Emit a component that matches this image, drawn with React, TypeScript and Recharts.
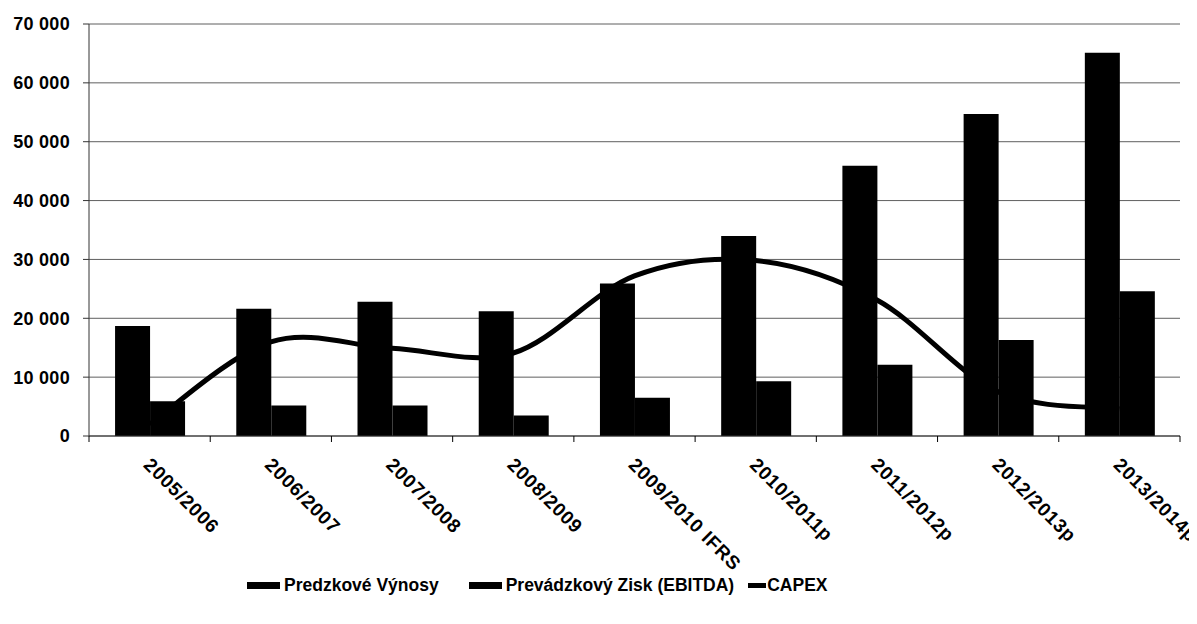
import React from 'react';
import { ComposedChart, Bar, Line, XAxis, YAxis, CartesianGrid, Legend } from 'recharts';

const CATEGORIES = [
  '2005/2006',
  '2006/2007',
  '2007/2008',
  '2008/2009',
  '2009/2010 IFRS',
  '2010/2011p',
  '2011/2012p',
  '2012/2013p',
  '2013/2014p',
];
const REVENUES = [18700, 21600, 22800, 21200, 25900, 34000, 45900, 54700, 65100];
const EBITDA = [5900, 5200, 5200, 3500, 6500, 9300, 12100, 16300, 24600];
const CAPEX = [2000, 16000, 14900, 14100, 27200, 29800, 23100, 7500, 4600];
const Y_TICKS = [0, 10000, 20000, 30000, 40000, 50000, 60000, 70000];

const SERIES_NAMES = ['Predzkové Výnosy', 'Prevádzkový Zisk (EBITDA)', 'CAPEX'];

const data = CATEGORIES.map((name, i) => ({
  name,
  revenues: REVENUES[i],
  ebitda: EBITDA[i],
  capex: CAPEX[i],
}));

const FONT = '"Liberation Sans", Arial, sans-serif';

// smooth curve through every point, like the spreadsheet's "smoothed line"
const catmullRom = (context: any) => {
  let pts: number[][] = [];
  return {
    areaStart() {},
    areaEnd() {},
    lineStart() {
      pts = [];
    },
    point(x: number, y: number) {
      pts.push([+x, +y]);
    },
    lineEnd() {
      if (!pts.length) return;
      context.moveTo(pts[0][0], pts[0][1]);
      for (let i = 0; i < pts.length - 1; i++) {
        const p0 = pts[i - 1] || pts[i];
        const p1 = pts[i];
        const p2 = pts[i + 1];
        const p3 = pts[i + 2] || p2;
        context.bezierCurveTo(
          p1[0] + (p2[0] - p0[0]) / 6,
          p1[1] + (p2[1] - p0[1]) / 6,
          p2[0] - (p3[0] - p1[0]) / 6,
          p2[1] - (p3[1] - p1[1]) / 6,
          p2[0],
          p2[1]
        );
      }
    },
  };
};

const fmt = (v: number) => String(v).replace(/\B(?=(\d{3})+(?!\d))/g, ' ');

const XTick = (props: any) => {
  const { x, y, payload, width, visibleTicksCount, index } = props;
  const band = (width || 1091) / (visibleTicksCount || CATEGORIES.length);
  const ax = x - 7;
  const ay = y + 30;
  return (
    <g>
      <line x1={x - band / 2} y1={y} x2={x - band / 2} y2={y + 6} stroke="#000" />
      {index === visibleTicksCount - 1 && (
        <line x1={x + band / 2} y1={y} x2={x + band / 2} y2={y + 6} stroke="#000" />
      )}
      <text
        x={ax}
        y={ay}
        transform={`rotate(45 ${ax} ${ay})`}
        textAnchor="start"
        fontFamily={FONT}
        fontWeight="bold"
        fontSize={19}
        letterSpacing={0.8}
        fill="#000"
      >
        {payload.value}
      </text>
    </g>
  );
};

const box = { display: 'inline-block', width: 33, height: 7, background: '#000', marginRight: 4 };

const LegendContent = () => (
  <div
    style={{
      display: 'flex',
      alignItems: 'center',
      height: 30,
      fontFamily: FONT,
      fontWeight: 'bold',
      fontSize: 17.5,
      color: '#000',
      whiteSpace: 'nowrap',
    }}
  >
    <span style={box} />
    <span style={{ marginRight: 30 }}>{SERIES_NAMES[0]}</span>
    <span style={box} />
    <span style={{ marginRight: 14 }}>{SERIES_NAMES[1]}</span>
    <span style={{ display: 'inline-block', width: 18, height: 5, background: '#000', marginRight: 1 }} />
    <span>{SERIES_NAMES[2]}</span>
  </div>
);

export default function App() {
  return (
    <div style={{ width: 1189, height: 600, background: '#fff' }}>
      <ComposedChart
        width={1185}
        height={592}
        data={data}
        margin={{ top: 16, right: 13, left: 0, bottom: 0 }}
        barGap={0}
        barCategoryGap="21.5%"
      >
        <CartesianGrid vertical={false} stroke="#5f5f5f" strokeWidth={1} />
        <XAxis
          dataKey="name"
          interval={0}
          height={134}
          tickSize={0}
          tickMargin={0}
          tick={<XTick />}
          axisLine={{ stroke: '#333' }}
        />
        <YAxis
          width={81}
          domain={[0, 70000]}
          ticks={Y_TICKS}
          tickFormatter={fmt}
          tickSize={6}
          tickMargin={13}
          axisLine={{ stroke: '#333' }}
          tickLine={{ stroke: '#333' }}
          tick={{ fontFamily: FONT, fontWeight: 'bold', fontSize: 18, fill: '#000', letterSpacing: 0.3 }}
        />
        <Legend
          height={30}
          content={<LegendContent />}
          wrapperStyle={{ left: 239, width: 'auto' }}
        />
        <Bar dataKey="revenues" name={SERIES_NAMES[0]} fill="#000" isAnimationActive={false} />
        <Bar dataKey="ebitda" name={SERIES_NAMES[1]} fill="#000" isAnimationActive={false} />
        <Line
          dataKey="capex"
          name={SERIES_NAMES[2]}
          type={catmullRom as any}
          stroke="#000"
          strokeWidth={5}
          dot={false}
          activeDot={false}
          isAnimationActive={false}
        />
      </ComposedChart>
    </div>
  );
}
